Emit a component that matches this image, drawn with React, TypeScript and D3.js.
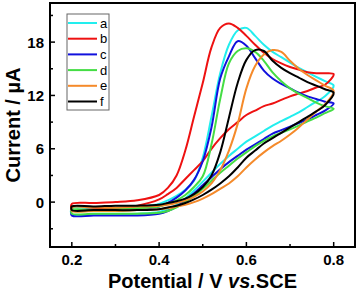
import React from "react";
import * as d3 from "d3";

const potentials = [0.2, 0.25, 0.3, 0.35, 0.4, 0.42, 0.44, 0.46, 0.48, 0.5, 0.52, 0.54, 0.56, 0.58, 0.6, 0.62, 0.64, 0.66, 0.68, 0.7, 0.72, 0.74, 0.76, 0.78, 0.8];

// forward (anodic) scan currents, µA, at each potential
const fwdA = [-0.7, -0.7, -0.6, -0.5, -0.2, 0.2, 0.7, 1.4, 2.4, 5.0, 9.6, 14.5, 17.7, 19.3, 19.6, 18.7, 17.7, 16.9, 16.3, 15.7, 15.1, 14.6, 14.1, 13.6, 13.1];
const fwdB = [-0.2, -0.1, 0.0, 0.2, 0.8, 1.6, 3.0, 5.8, 9.6, 13.4, 17.4, 19.6, 20.1, 19.6, 18.7, 17.7, 16.8, 16.1, 15.6, 15.2, 14.9, 14.6, 14.5, 14.5, 14.4];
const fwdC = [-1.0, -1.0, -0.9, -0.8, -0.5, -0.1, 0.5, 1.3, 2.5, 4.6, 8.4, 13.9, 16.4, 18.1, 17.6, 16.2, 14.8, 13.9, 13.3, 12.8, 12.3, 11.9, 11.6, 11.3, 11.1];
const fwdD = [-0.9, -0.9, -0.8, -0.7, -0.5, -0.2, 0.2, 0.8, 1.7, 2.9, 6.5, 11.6, 15.6, 17.0, 17.3, 16.9, 15.9, 14.6, 13.6, 12.8, 12.2, 11.7, 11.2, 10.8, 10.5];
const fwdE = [-0.6, -0.6, -0.6, -0.5, -0.4, -0.3, -0.1, 0.2, 0.6, 1.2, 2.1, 3.6, 5.8, 8.8, 12.8, 15.3, 16.6, 17.1, 16.9, 15.9, 15.0, 14.3, 13.7, 13.1, 12.5];
const fwdF = [-0.5, -0.5, -0.4, -0.4, -0.3, -0.1, 0.1, 0.4, 0.9, 1.7, 3.0, 5.6, 9.5, 13.4, 16.0, 17.1, 17.0, 15.9, 15.1, 14.5, 14.0, 13.5, 13.1, 12.7, 12.3];

// reverse scan currents, µA, at the same potentials (listed from 0.2 to 0.78)
const revA = [-1.4, -1.4, -1.4, -1.3, -1.1, -0.8, -0.3, 0.4, 1.3, 2.3, 3.3, 4.3, 5.2, 6.0, 6.8, 7.4, 8.0, 8.6, 9.1, 9.6, 10.1, 10.7, 11.3, 11.9];
const revB = [-0.8, -0.8, -0.7, -0.4, 0.3, 0.9, 1.6, 2.6, 3.6, 4.6, 6.0, 7.2, 8.2, 9.0, 9.8, 10.3, 10.8, 11.1, 11.5, 11.9, 12.2, 12.5, 12.9, 13.2];
const revC = [-1.5, -1.5, -1.5, -1.5, -1.3, -1.0, -0.5, 0.2, 1.0, 1.9, 2.8, 3.7, 4.5, 5.2, 5.9, 6.5, 7.1, 7.7, 8.1, 8.5, 8.9, 9.3, 9.8, 10.3];
const revD = [-1.3, -1.3, -1.3, -1.3, -1.2, -1.0, -0.6, 0.0, 0.7, 1.5, 2.4, 3.3, 4.1, 4.9, 5.6, 6.3, 6.9, 7.4, 7.8, 8.2, 8.6, 9.1, 9.5, 10.0];
const revE = [-1.0, -1.0, -1.0, -0.9, -0.8, -0.7, -0.5, -0.3, 0.0, 0.4, 0.9, 1.5, 2.1, 2.9, 3.9, 4.8, 5.6, 6.3, 6.9, 7.6, 8.4, 9.3, 10.2, 11.0];
const revF = [-0.9, -0.9, -0.9, -0.9, -0.8, -0.6, -0.4, -0.1, 0.3, 0.8, 1.4, 2.1, 2.9, 3.9, 5.0, 5.8, 6.6, 7.2, 7.8, 8.4, 9.0, 9.6, 10.2, 10.9];

const seriesNames = ["a", "b", "c", "d", "e", "f"];
const seriesColors = ["#22EEEE", "#EE1111", "#1111DD", "#44DD44", "#F58A2A", "#000000"];
const forwardScans = [fwdA, fwdB, fwdC, fwdD, fwdE, fwdF];
const reverseScans = [revA, revB, revC, revD, revE, revF];

const xTicks = [0.2, 0.4, 0.6, 0.8];
const xMinor = [0.3, 0.5, 0.7];
const yTicks = [0, 6, 12, 18];
const yMinor = [-3, 3, 9, 15, 21];

const W = 358, H = 291;
const L = 50, R = 355, T = 3, B = 247;

export default function App() {
  const x = d3.scaleLinear().domain([0.15, 0.85]).range([L, R + 0.5]);
  const y = d3.scaleLinear().domain([-5.05, 22.4]).range([B, T]);
  const line = d3
    .line<[number, number]>()
    .x((d) => x(d[0]))
    .y((d) => y(d[1]))
    .curve(d3.curveCatmullRomClosed.alpha(0.5));

  const paths = seriesNames.map((name, i) => {
    const f: [number, number][] = potentials.map((v, k) => [v, forwardScans[i][k]]);
    const revPot = potentials.slice(0, potentials.length - 1);
    const r: [number, number][] = revPot.map((v, k) => [v, reverseScans[i][k]]).reverse() as [number, number][];
    return line([...f, ...r]) || "";
  });

  const font = "Arial, 'Liberation Sans', Helvetica, sans-serif";
  const legendX = 67, legendY = 14, legendRow = 15.7;

  return (
    <svg width={W} height={H} style={{ position: "absolute", left: 0, top: 0, background: "#fff" }} fontFamily={font}>
      <rect x={0} y={0} width={W} height={H} fill="#fff" />
      <defs>
        <clipPath id="plotclip">
          <rect x={L} y={T} width={R - L} height={B - T} />
        </clipPath>
      </defs>
      <g clipPath="url(#plotclip)">
        {paths.map((p, i) => (
          <path key={i} d={p} fill="none" stroke={seriesColors[i]} strokeWidth={2} strokeLinejoin="round" />
        ))}
      </g>
      {/* frame */}
      <rect x={L} y={T} width={R - L} height={B - T} fill="none" stroke="#000" strokeWidth={2} />
      {/* x ticks */}
      {xTicks.map((t) => (
        <g key={"xt" + t}>
          <line x1={x(t)} x2={x(t)} y1={B} y2={B - 5} stroke="#000" strokeWidth={1.5} />
          <text x={x(t)} y={265} textAnchor="middle" fontSize={15} fontWeight="bold">{t.toFixed(1)}</text>
        </g>
      ))}
      {xMinor.map((t) => (
        <line key={"xm" + t} x1={x(t)} x2={x(t)} y1={B} y2={B - 3} stroke="#000" strokeWidth={1.5} />
      ))}
      {/* y ticks */}
      {yTicks.map((t) => (
        <g key={"yt" + t}>
          <line x1={L} x2={L + 5} y1={y(t)} y2={y(t)} stroke="#000" strokeWidth={1.5} />
          <text x={44} y={y(t) + 5.5} textAnchor="end" fontSize={15} fontWeight="bold">{t}</text>
        </g>
      ))}
      {yMinor.map((t) => (
        <line key={"ym" + t} x1={L} x2={L + 3} y1={y(t)} y2={y(t)} stroke="#000" strokeWidth={1.5} />
      ))}
      {/* axis titles */}
      <text transform={`translate(20,${(T + B) / 2}) rotate(-90)`} textAnchor="middle" fontSize={20} fontWeight="bold">
        Current / µA
      </text>
      <text x={(L + R) / 2} y={288} textAnchor="middle" fontSize={20} fontWeight="bold">
        Potential / V <tspan fontStyle="italic">vs.</tspan>SCE
      </text>
      {/* legend */}
      <rect x={legendX} y={legendY} width={42} height={96} fill="#fff" stroke="#666" strokeWidth={1} />
      {seriesNames.map((n, i) => {
        const yy = legendY + 9 + i * legendRow;
        return (
          <g key={"lg" + n}>
            <line x1={legendX + 1} x2={legendX + 30} y1={yy} y2={yy} stroke={seriesColors[i]} strokeWidth={2} />
            <text x={legendX + 33} y={yy + 4.5} fontSize={13}>{n}</text>
          </g>
        );
      })}
    </svg>
  );
}
